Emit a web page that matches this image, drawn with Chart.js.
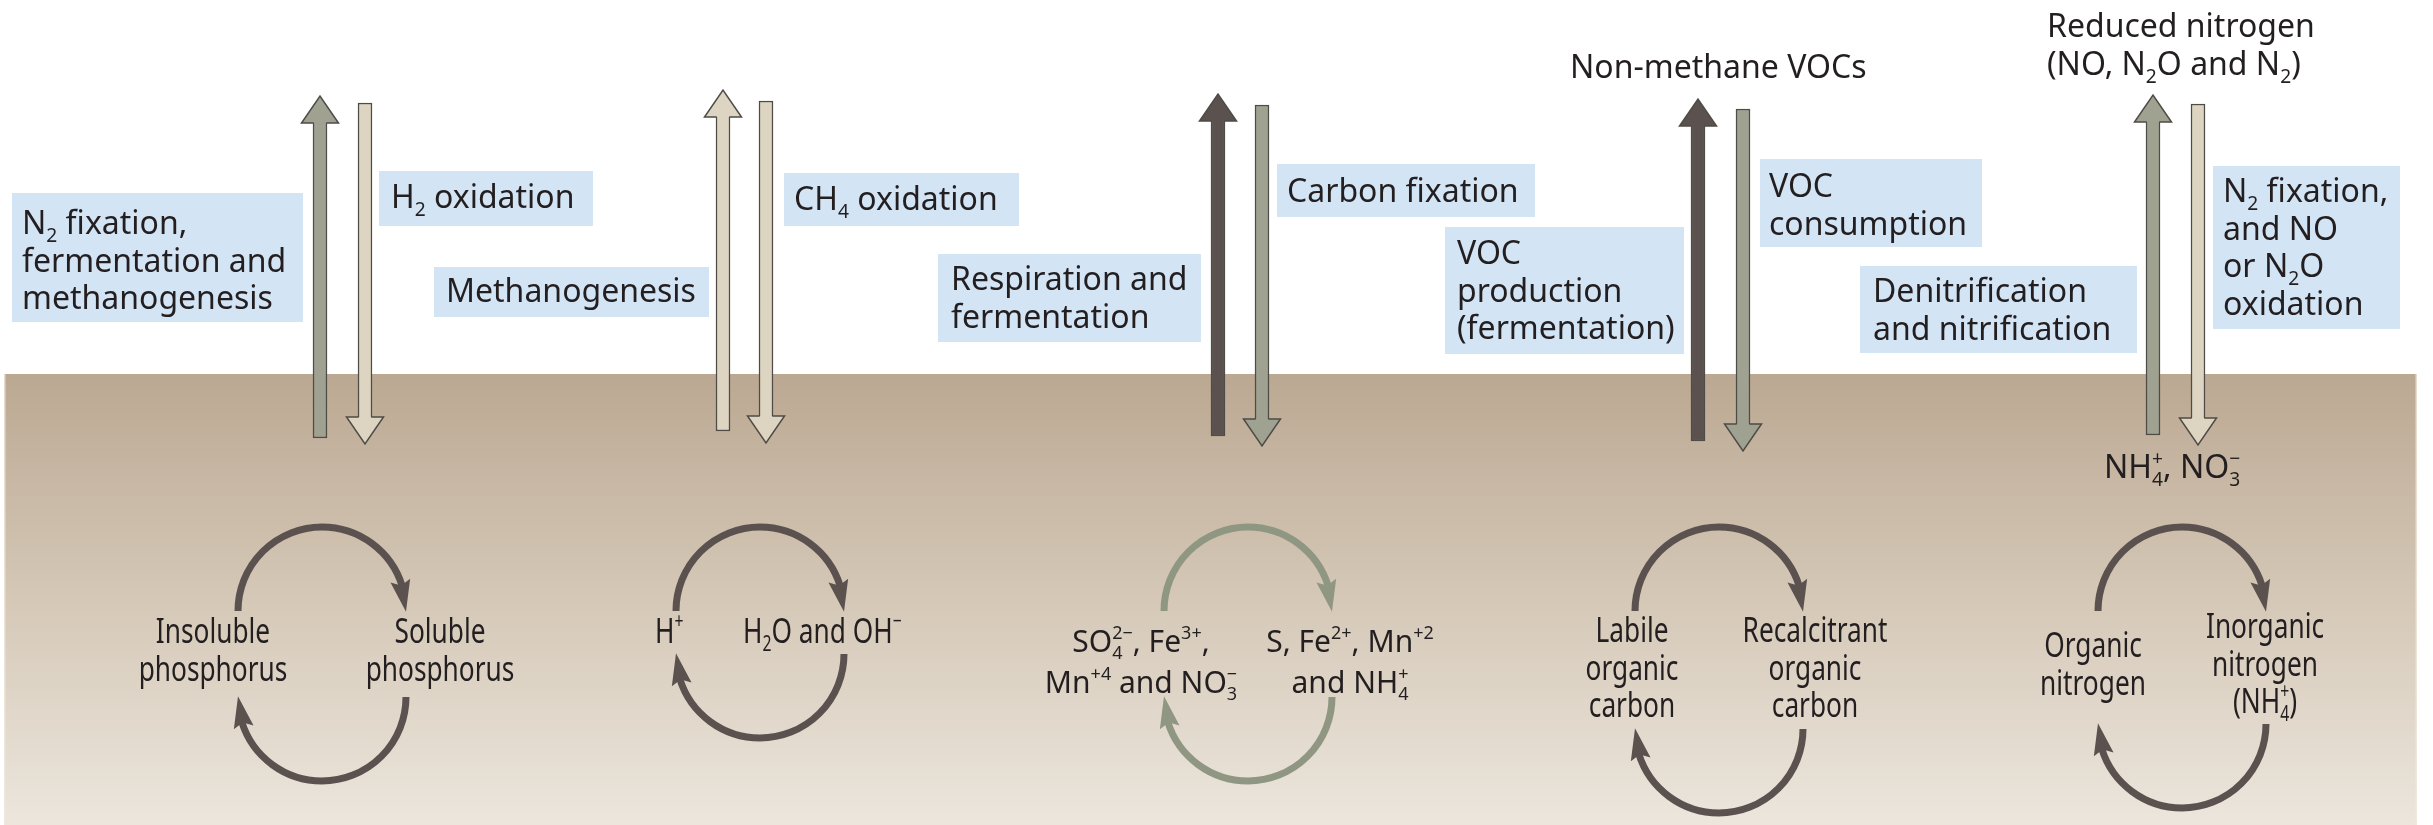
<!DOCTYPE html>
<html>
<head>
<meta charset="utf-8">
<title>Soil cycles</title>
<script src="https://cdn.jsdelivr.net/npm/chart.js@4.4.1/dist/chart.umd.min.js"></script>
<style>
  html, body { margin: 0; padding: 0; background: #ffffff; }
  #div_grafico { position: relative; width: 2433px; height: 825px; }
</style>
</head>
<body>
<div id="div_grafico"><canvas id="grafico"></canvas></div>
<script>
// heights are measured from the soil surface (0 = ground level, positive = above ground)
const columnNames = ['Phosphorus', 'Hydrogen', 'Carbon', 'VOC', 'Nitrogen'];
const upArrowX = [320, 723, 1218, 1698, 2153];
const upArrowBottom = [-64, -57, -62, -67, -61];
const upArrowTip = [278, 284, 280, 275, 279];
const downArrowX = [365, 766, 1262, 1743, 2198];
const downArrowTop = [271, 273, 269, 265, 270];
const downArrowTip = [-70, -69, -72, -77, -71];

const boxTexts = [
    ['N_{2} fixation,', 'fermentation and', 'methanogenesis'],
    ['H_{2} oxidation'],
    ['Methanogenesis'],
    ['CH_{4} oxidation'],
    ['Respiration and', 'fermentation'],
    ['Carbon fixation'],
    ['VOC', 'production', '(fermentation)'],
    ['VOC', 'consumption'],
    ['Denitrification', 'and nitrification'],
    ['N_{2} fixation,', 'and NO', 'or N_{2}O', 'oxidation']
];
const freeTexts = [
    ['Non-methane VOCs'],
    ['Reduced nitrogen', '(NO, N_{2}O and N_{2})'],
    ['NH_{4}^{+}, NO_{3}^{\u2212}']
];
const cycleX = [322, 760, 1248, 1719, 2182];
const cycleTopY = [-237, -237, -237, -237, -237];
const cycleBottomY = [-323, -280, -323, -355, -350];
const cycleLeftTexts = [
    ['Insoluble', 'phosphorus'],
    ['H^{+}'],
    ['SO_{4}^{2\u2212}, Fe^{3+},', 'Mn^{+4} and NO_{3}^{\u2212}'],
    ['Labile', 'organic', 'carbon'],
    ['Organic', 'nitrogen']
];
const cycleRightTexts = [
    ['Soluble', 'phosphorus'],
    ['H_{2}O and OH^{\u2212}'],
    ['S, Fe^{2+}, Mn^{+2}', 'and NH_{4}^{+}'],
    ['Recalcitrant', 'organic', 'carbon'],
    ['Inorganic', 'nitrogen', '(NH_{4}^{+})']
];

// layout (axis units), kept apart from the values above
const boxLayout = [
    [12, 303, 181, 52, 22, 140],
    [379, 593, 203, 148, 391, 166],
    [434, 709, 107, 57, 446, 72],
    [784, 1019, 201, 148, 794, 164],
    [938, 1201, 120, 32, 951, 84],
    [1277, 1535, 210, 157, 1287, 172],
    [1445, 1684, 147, 20, 1457, 110],
    [1760, 1982, 215, 127, 1769, 177],
    [1860, 2137, 108, 21, 1873, 72],
    [2213, 2400, 208, 45, 2223, 172]
];
const freeLayout = [[1570, 296], [2047, 337], [2104, -104]];
const cycleLeftLayout = [[213, -269, 'center'], [655, -269, 'left'], [1141, -278, 'center'], [1632, -268, 'center'], [2093, -283, 'center']];
const cycleRightLayout = [[440, -269, 'center'], [743, -269, 'left'], [1350, -278, 'center'], [1815, -268, 'center'], [2265, -264, 'center']];

const GREEN = '#9fa191', BEIGE = '#ddd5c2', DARK = '#5b5250';
const upColors = [GREEN, BEIGE, DARK, DARK, GREEN];
const downColors = [BEIGE, BEIGE, GREEN, GREEN, BEIGE];
const cycleColors = [DARK, DARK, '#8f9783', DARK, DARK];
const OUTLINE = '#4f4b46';
const TEXT = '#231f20';
const BOX = '#d3e4f4';
const FONT = '"Noto Sans", "DejaVu Sans", sans-serif';
const LABEL_SIZE = 32;
const HEAD_LEN = 27, HEAD_W = 37, SHAFT_W = 14;

function parseRich(str) {
    const parts = [];
    let buf = '', i = 0;
    while (i < str.length) {
        const c = str[i];
        if ((c === '_' || c === '^') && str[i + 1] === '{') {
            if (buf) { parts.push({ t: buf, k: 'n' }); buf = ''; }
            const end = str.indexOf('}', i);
            parts.push({ t: str.slice(i + 2, end), k: c === '_' ? 'sub' : 'sup' });
            i = end + 1;
        } else {
            buf += c;
            i++;
        }
    }
    if (buf) parts.push({ t: buf, k: 'n' });
    return parts;
}

function layoutRich(ctx, str, size) {
    const items = [];
    let x = 0, lastSub = null;
    parseRich(str).forEach(p => {
        if (p.k === 'n') {
            const font = size + 'px ' + FONT;
            ctx.font = font;
            items.push({ t: p.t, font: font, dx: x, dy: 0 });
            x += ctx.measureText(p.t).width;
            lastSub = null;
        } else {
            const font = (size * 0.6) + 'px ' + FONT;
            ctx.font = font;
            const w = ctx.measureText(p.t).width;
            if (p.k === 'sup' && lastSub) {
                items.push({ t: p.t, font: font, dx: lastSub.x, dy: -size * 0.42 });
                x = lastSub.x + Math.max(lastSub.w, w);
                lastSub = null;
            } else {
                const dy = p.k === 'sub' ? size * 0.24 : -size * 0.42;
                items.push({ t: p.t, font: font, dx: x, dy: dy });
                lastSub = p.k === 'sub' ? { x: x, w: w } : null;
                x += w;
            }
        }
    });
    return { items: items, width: x };
}

function drawRich(ctx, str, x, y, size, align, sx) {
    const lay = layoutRich(ctx, str, size);
    const x0 = align === 'center' ? x - lay.width * sx / 2 : x;
    ctx.save();
    ctx.translate(x0, y);
    ctx.scale(sx, 1);
    ctx.fillStyle = TEXT;
    ctx.textAlign = 'left';
    ctx.textBaseline = 'alphabetic';
    lay.items.forEach(it => {
        ctx.font = it.font;
        ctx.fillText(it.t, it.dx, it.dy);
    });
    ctx.restore();
}

function arcHead(ctx, cx, cy, r, aBase, aTip) {
    const bx = cx + r * Math.cos(aBase), by = cy + r * Math.sin(aBase);
    const tx = cx + r * Math.cos(aTip), ty = cy + r * Math.sin(aTip);
    const len = Math.hypot(tx - bx, ty - by);
    const ux = (tx - bx) / len, uy = (ty - by) / len;
    const nx = -uy, ny = ux, hw = 10;
    ctx.beginPath();
    ctx.moveTo(tx, ty);
    ctx.lineTo(bx + nx * hw, by + ny * hw);
    ctx.lineTo(bx + ux * 5, by + uy * 5);
    ctx.lineTo(bx - nx * hw, by - ny * hw);
    ctx.closePath();
    ctx.fill();
}

const diagramPlugin = {
    id: 'diagram',
    beforeDatasetsDraw(chart) {
        const ctx = chart.ctx, sx = chart.scales.x, sy = chart.scales.y;
        const area = chart.chartArea;
        ctx.save();
        ctx.fillStyle = '#ffffff';
        ctx.fillRect(0, 0, chart.width, chart.height);

        // soil
        const gTop = sy.getPixelForValue(0);
        const gl = sx.getPixelForValue(4), gr = sx.getPixelForValue(2417);
        const grad = ctx.createLinearGradient(0, gTop, 0, area.bottom);
        grad.addColorStop(0, '#bba892');
        grad.addColorStop(0.5, '#d5c8b7');
        grad.addColorStop(1, '#ece6dd');
        ctx.fillStyle = grad;
        ctx.fillRect(gl, gTop, gr - gl, area.bottom - gTop);
        ctx.fillStyle = 'rgba(240,232,220,0.8)';
        ctx.fillRect(gl, gTop, 1.5, area.bottom - gTop);
        ctx.fillRect(gr - 1.5, gTop, 1.5, area.bottom - gTop);

        // process boxes
        boxTexts.forEach((lines, i) => {
            const b = boxLayout[i];
            const x0 = sx.getPixelForValue(b[0]), x1 = sx.getPixelForValue(b[1]);
            const y0 = sy.getPixelForValue(b[2]), y1 = sy.getPixelForValue(b[3]);
            ctx.fillStyle = BOX;
            ctx.fillRect(x0, y0, x1 - x0, y1 - y0);
            lines.forEach((t, k) => {
                drawRich(ctx, t, sx.getPixelForValue(b[4]), sy.getPixelForValue(b[5]) + k * 37.5, LABEL_SIZE, 'left', 1);
            });
        });

        freeTexts.forEach((lines, i) => {
            const f = freeLayout[i];
            lines.forEach((t, k) => {
                drawRich(ctx, t, sx.getPixelForValue(f[0]), sy.getPixelForValue(f[1]) + k * 38, LABEL_SIZE, 'left', 1);
            });
        });
        ctx.restore();
    },
    afterDatasetsDraw(chart) {
        const ctx = chart.ctx, sx = chart.scales.x, sy = chart.scales.y;
        ctx.save();
        ctx.lineWidth = 1.5;
        ctx.strokeStyle = OUTLINE;
        ctx.lineJoin = 'miter';

        // arrow heads
        const head = (x, tipV, dir, color) => {
            const cx = sx.getPixelForValue(x), ty = sy.getPixelForValue(tipV);
            const by = ty + dir * HEAD_LEN;
            ctx.fillStyle = color;
            ctx.beginPath();
            ctx.moveTo(cx - HEAD_W / 2, by);
            ctx.lineTo(cx, ty);
            ctx.lineTo(cx + HEAD_W / 2, by);
            ctx.closePath();
            ctx.fill();
            ctx.beginPath();
            ctx.moveTo(cx - SHAFT_W / 2 + 0.75, by);
            ctx.lineTo(cx - HEAD_W / 2, by);
            ctx.lineTo(cx, ty);
            ctx.lineTo(cx + HEAD_W / 2, by);
            ctx.lineTo(cx + SHAFT_W / 2 - 0.75, by);
            ctx.stroke();
        };
        upArrowX.forEach((x, i) => head(x, upArrowTip[i], 1, upColors[i]));
        downArrowX.forEach((x, i) => head(x, downArrowTip[i], -1, downColors[i]));

        // cycles
        cycleX.forEach((x, i) => {
            const cx = sx.getPixelForValue(x);
            const r = sx.getPixelForValue(x + 84) - cx;
            const ct = sy.getPixelForValue(cycleTopY[i]);
            const cb = sy.getPixelForValue(cycleBottomY[i]);
            ctx.strokeStyle = cycleColors[i];
            ctx.fillStyle = cycleColors[i];
            ctx.lineWidth = 7;
            ctx.lineCap = 'butt';
            ctx.beginPath();
            ctx.arc(cx, ct, r, Math.PI, 2 * Math.PI - 0.3);
            ctx.stroke();
            arcHead(ctx, cx, ct, r, 2 * Math.PI - 0.37, 2 * Math.PI + 0.01);
            ctx.beginPath();
            ctx.arc(cx, cb, r, 0, Math.PI - 0.3);
            ctx.stroke();
            arcHead(ctx, cx, cb, r, Math.PI - 0.37, Math.PI + 0.01);
        });

        // cycle labels (condensed, except the redox pair)
        const drawCycleText = (lines, pos, i) => {
            const normal = i === 2;
            const size = normal ? 30 : 35;
            const lh = normal ? 41 : 37.5;
            lines.forEach((t, k) => {
                drawRich(ctx, t, sx.getPixelForValue(pos[0]), sy.getPixelForValue(pos[1]) + k * lh, size, pos[2], normal ? 1 : 0.75);
            });
        };
        cycleLeftTexts.forEach((lines, i) => drawCycleText(lines, cycleLeftLayout[i], i));
        cycleRightTexts.forEach((lines, i) => drawCycleText(lines, cycleRightLayout[i], i));
        ctx.restore();
    }
};

const grafico = new Chart(document.getElementById('grafico'), {
    type: 'bar',
    data: {
        labels: columnNames,
        datasets: [{
            label: 'Upward flux',
            data: upArrowX.map((x, i) => ({ x: x, y: [upArrowBottom[i], upArrowTip[i] - HEAD_LEN + 2] })),
            backgroundColor: upColors,
            borderColor: OUTLINE,
            borderWidth: 1.5,
            borderSkipped: false,
            barThickness: SHAFT_W,
            grouped: false
        }, {
            label: 'Downward flux',
            data: downArrowX.map((x, i) => ({ x: x, y: [downArrowTop[i], downArrowTip[i] + HEAD_LEN - 2] })),
            backgroundColor: downColors,
            borderColor: OUTLINE,
            borderWidth: 1.5,
            borderSkipped: false,
            barThickness: SHAFT_W,
            grouped: false
        }]
    },
    options: {
        responsive: true,
        maintainAspectRatio: false,
        animation: false,
        layout: { padding: 0 },
        plugins: {
            legend: { display: false },
            title: { display: false },
            tooltip: { enabled: false }
        },
        scales: {
            x: { type: 'linear', min: 0, max: 2433, offset: false, display: false },
            y: { type: 'linear', min: -451, max: 374, display: false }
        }
    },
    plugins: [diagramPlugin]
});
</script>
</body>
</html>
